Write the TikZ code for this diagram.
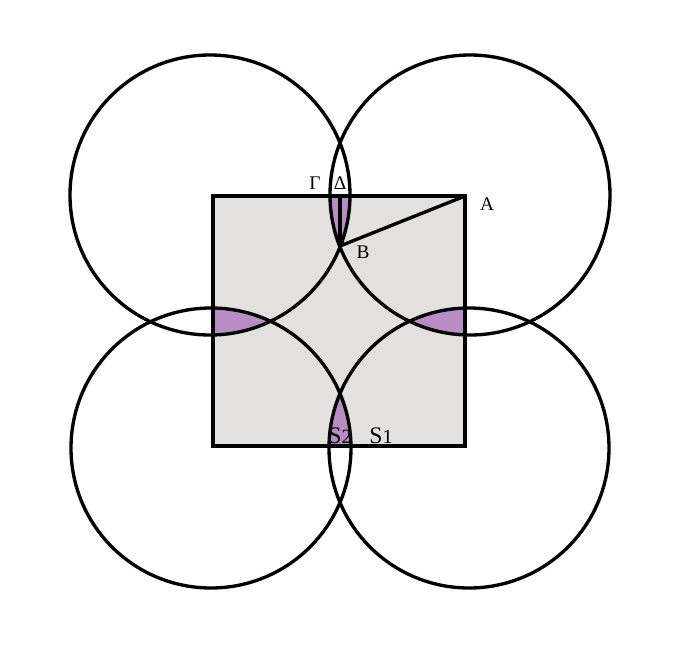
\documentclass[tikz,border=0pt]{standalone}
\usepackage{fontspec}
\setmainfont{Liberation Serif}
\definecolor{sqgray}{RGB}{226,225,224}
\definecolor{lens}{RGB}{186,140,198}
\begin{document}
\begin{tikzpicture}[x=0.02cm,y=-0.02cm,
  edge/.style={line width=1.9pt,line join=miter},
  lbl/.style={inner sep=0pt,font=\fontsize{11}{13}\selectfont},
  slbl/.style={inner sep=0pt,font=\fontsize{13.5}{15}\selectfont}]
\useasboundingbox (0,0) rectangle (684,646);
% square corners
\coordinate (P1) at (213,196);
\coordinate (P2) at (465,196);
\coordinate (P3) at (465,446);
\coordinate (P4) at (213,446);
% circle centres
\coordinate (CTL) at (210,195);
\coordinate (CTR) at (470,195);
\coordinate (CBL) at (211,448);
\coordinate (CBR) at (469,448);
\def\rad{140}
% square fill
\fill[sqgray] (P1) rectangle (P3);
% lenses
\begin{scope}
  \clip (P1) rectangle (P3);
  \begin{scope}\clip (CTL) circle (\rad); \fill[lens] (CTR) circle (\rad);\end{scope}
  \begin{scope}\clip (CBL) circle (\rad); \fill[lens] (CBR) circle (\rad);\end{scope}
  \begin{scope}\clip (CTL) circle (\rad); \fill[lens] (CBL) circle (\rad);\end{scope}
  \begin{scope}\clip (CTR) circle (\rad); \fill[lens] (CBR) circle (\rad);\end{scope}
\end{scope}
% circles
\draw[edge] (CTL) circle (\rad);
\draw[edge] (CTR) circle (\rad);
\draw[edge] (CBL) circle (\rad);
\draw[edge] (CBR) circle (\rad);
% square
\draw[edge] (P1) -- (P2) -- (P3) -- (P4) -- cycle;
% points
\coordinate (A) at (465,196);
\coordinate (B) at (340,246);
\coordinate (D) at (340,196);
\draw[edge] (A) -- (B);
\draw[edge] (D) -- (B);
% labels
\node[lbl] (lG) at (315,183) {Γ};
\node[lbl] (lD) at (340,183) {Δ};
\node[lbl] (lA) at (487,204) {A};
\node[lbl] (lB) at (363,252) {B};
\node[slbl] (lS2) at (340,436) {S\scalebox{0.85}{2}};
\node[slbl] (lS1) at (381,436) {S\scalebox{0.85}{1}};
\end{tikzpicture}
\end{document}
